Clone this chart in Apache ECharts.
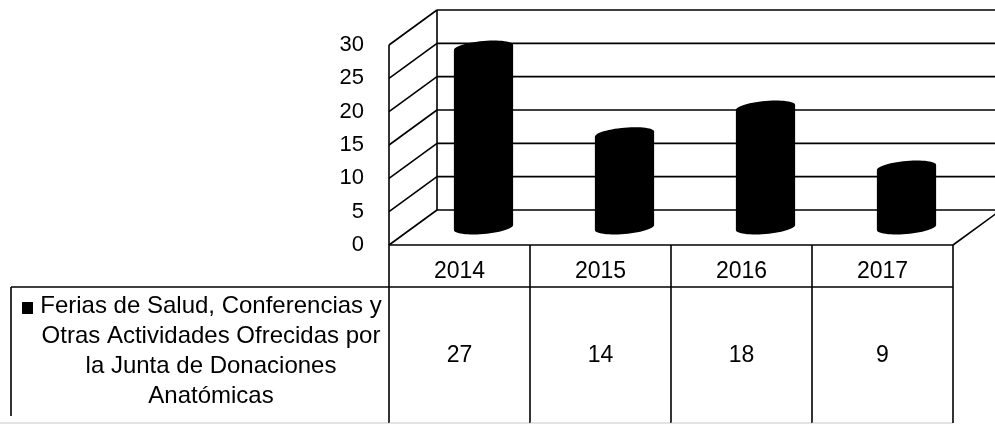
<!DOCTYPE html>
<html><head><meta charset="utf-8">
<script src="https://cdn.jsdelivr.net/npm/echarts@6/dist/echarts.min.js"></script>
<style>html,body{margin:0;padding:0;background:#fff}#c{width:995px;height:425px}</style>
</head><body><div id="c"></div>
<script>
// ---- data ----
const years = ['2014', '2015', '2016', '2017'];
const values = [27, 14, 18, 9];
const yTicks = [0, 5, 10, 15, 20, 25, 30];
const legendLines = ['Ferias de Salud, Conferencias y', 'Otras Actividades Ofrecidas por', 'la Junta de Donaciones', 'Anatómicas'];

// ---- style / geometry ----
const DX = 48, DY = -35;
const FONT = '"Liberation Sans", Arial, sans-serif';
const LINE = { stroke: '#000', lineWidth: 1.6 };
const FAINT = { stroke: '#c8c8c8', lineWidth: 1 };

const chart = echarts.init(document.getElementById('c'), null, { renderer: 'canvas' });

function wallItem(params, api) {
  const cs = params.coordSys;
  const v = api.value(1);
  const y = api.coord([0, v])[1];
  const x0 = cs.x, x1 = cs.x + cs.width;
  const ch = [
    { type: 'line', shape: { x1: x0, y1: y, x2: x0 + DX, y2: y + DY }, style: LINE },
    { type: 'line', shape: { x1: x0 + DX, y1: y + DY, x2: x1 + DX, y2: y + DY }, style: LINE }
  ];
  if (params.dataIndex === 0) {
    const yt = api.coord([0, yTicks[yTicks.length - 1]])[1];
    ch.push({ type: 'line', shape: { x1: x0, y1: y, x2: x0, y2: yt }, style: LINE });
    ch.push({ type: 'line', shape: { x1: x0 + DX, y1: y + DY, x2: x0 + DX, y2: yt + DY }, style: LINE });
    ch.push({ type: 'line', shape: { x1: x1, y1: y, x2: x1 + DX, y2: y + DY }, style: LINE });
  }
  return { type: 'group', children: ch };
}

function cylItem(params, api) {
  const i = api.value(0), v = api.value(1);
  const top = api.coord([i, v]), bot = api.coord([i, 0]);
  const band = api.size([1, 0])[0];
  const cx = top[0] + DX / 2, rx = band * 0.21, ry = 6.5, k = 2.5;
  const tcy = top[1] + DY / 2, bcy = bot[1] + DY / 2;
  const pts = [];
  const N = 28;
  for (let j = 0; j <= N; j++) {
    const t = Math.PI + Math.PI * j / N;
    pts.push([cx + rx * Math.cos(t), tcy + ry * Math.sin(t) - k * Math.cos(t)]);
  }
  for (let j = 0; j <= N; j++) {
    const t = Math.PI * j / N;
    pts.push([cx + rx * Math.cos(t), bcy + ry * Math.sin(t) - k * Math.cos(t)]);
  }
  return { type: 'polygon', shape: { points: pts }, style: { fill: '#000' } };
}

function tableItem(params, api) {
  const i = api.value(0), v = api.value(1);
  const c = api.coord([i, 0]);
  const band = api.size([1, 0])[0];
  const xl = c[0] - band / 2, xr = c[0] + band / 2, y0 = c[1];
  const ch = [
    { type: 'line', shape: { x1: xl, y1: y0, x2: xr, y2: y0 }, style: LINE },
    { type: 'line', shape: { x1: xl, y1: y0, x2: xl, y2: 423 }, style: LINE },
    { type: 'line', shape: { x1: xl, y1: y0 + 42, x2: xr, y2: y0 + 42 }, style: LINE },
    { type: 'line', shape: { x1: xl, y1: 423, x2: xr, y2: 423 }, style: FAINT },
    { type: 'text', style: { text: years[i], x: c[0], y: y0 + 27, align: 'center', verticalAlign: 'middle', font: '23px ' + FONT, fill: '#000' } },
    { type: 'text', style: { text: String(v), x: c[0], y: y0 + 111, align: 'center', verticalAlign: 'middle', font: '23px ' + FONT, fill: '#000' } }
  ];
  if (i === years.length - 1) {
    ch.push({ type: 'line', shape: { x1: xr, y1: y0, x2: xr, y2: 423 }, style: LINE });
  }
  return { type: 'group', children: ch };
}

chart.setOption({
  animation: false,
  backgroundColor: '#fff',
  grid: { left: 389, right: 42, top: 45, bottom: 180, containLabel: false },
  xAxis: { type: 'category', data: years, show: false },
  yAxis: {
    type: 'value', min: 0, max: 30, interval: 5,
    axisLine: { show: false }, axisTick: { show: false }, splitLine: { show: false },
    axisLabel: { color: '#000', fontSize: 22, fontFamily: FONT, margin: 25 }
  },
  graphic: [
    { type: 'line', shape: { x1: 11, y1: 287, x2: 389, y2: 287 }, style: LINE, silent: true },
    { type: 'line', shape: { x1: 11, y1: 287, x2: 11, y2: 416 }, style: LINE, silent: true },
    { type: 'line', shape: { x1: 0, y1: 423, x2: 389, y2: 423 }, style: FAINT, silent: true },
    { type: 'rect', shape: { x: 22, y: 302, width: 11, height: 12 }, style: { fill: '#000' }, silent: true },
    { type: 'text', x: 211, y: 351, silent: true,
      style: { text: legendLines.join('\n'), align: 'center', verticalAlign: 'middle', lineHeight: 30, font: '24px ' + FONT, fill: '#000' } }
  ],
  series: [
    { type: 'custom', silent: true, renderItem: wallItem, encode: { x: 0, y: 1 }, data: yTicks.map(v => [0, v]), z: 1 },
    { type: 'custom', silent: true, renderItem: cylItem, encode: { x: 0, y: 1 }, data: values.map((v, i) => [i, v]), z: 2 },
    { type: 'custom', silent: true, renderItem: tableItem, encode: { x: 0, y: 1 }, data: values.map((v, i) => [i, v]), z: 3 }
  ]
});
</script>
</body></html>
